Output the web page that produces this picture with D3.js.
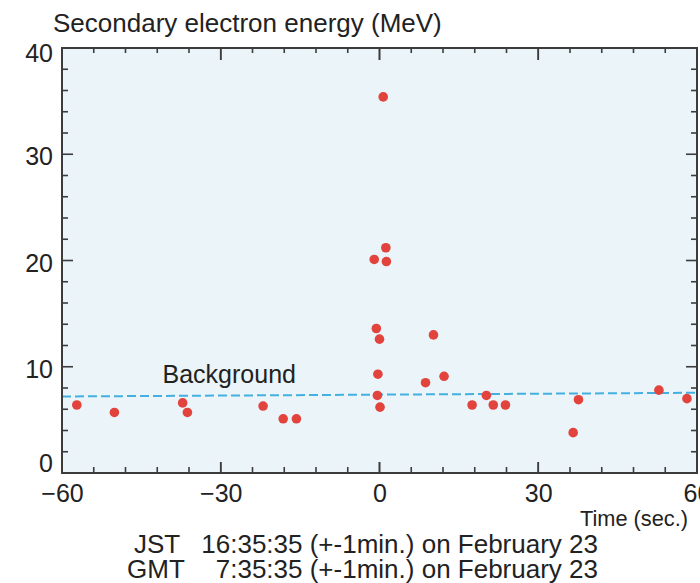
<!DOCTYPE html>
<html>
<head>
<meta charset="utf-8">
<script src="https://cdn.jsdelivr.net/npm/d3@7"></script>
<style>
  body { margin: 0; background: #ffffff; }
  svg { display: block; font-family: "Liberation Sans", Arial, sans-serif; }
</style>
</head>
<body>
<div id="chart"></div>
<script>
// Event times (sec) and secondary electron energies (MeV)
var times    = [-57.2, -50.1, -37.2, -36.3, -22.0, -18.2, -15.7,
                -1.0, -0.6, -0.4, -0.3, 0.0, 0.1, 0.7, 1.2, 1.3,
                8.7, 10.2, 12.2, 17.5, 20.2, 21.5, 23.8, 36.6, 37.6, 52.8, 58.1];
var energies = [6.4, 5.7, 6.6, 5.7, 6.3, 5.1, 5.1,
                20.1, 13.6, 7.3, 9.3, 12.6, 6.2, 35.4, 21.2, 19.9,
                8.5, 13.0, 9.1, 6.4, 7.3, 6.4, 6.4, 3.8, 6.9, 7.8, 7.0];

// Background level (dashed line) at the two ends of the time range
var bgTimes = [-60, 60];
var bgLevels = [7.2, 7.55];

var xMajor = [-60, -30, 0, 30, 60];
var xMinor = d3.range(-54, 60, 6);
var yMajor = [0, 10, 20, 30, 40];
var yMinor = d3.range(2, 40, 2);

var width = 700, height = 583;
var plotLeft = 62, plotRight = 697, plotTop = 48, plotBottom = 473;
var axisColor = '#3c3c3c';

var svg = d3.select('#chart').append('svg')
    .attr('width', width).attr('height', height);

var x = d3.scaleLinear().domain([-60, 60]).range([plotLeft, plotRight]);
var y = d3.scaleLinear().domain([0, 40]).range([plotBottom, plotTop]);

// Plot background
svg.append('rect')
    .attr('x', plotLeft).attr('y', plotTop)
    .attr('width', plotRight - plotLeft).attr('height', plotBottom - plotTop)
    .attr('fill', '#eaf4f9');

// Background level
svg.append('line')
    .attr('x1', x(bgTimes[0])).attr('y1', y(bgLevels[0]))
    .attr('x2', x(bgTimes[1])).attr('y2', y(bgLevels[1]))
    .attr('stroke', '#45b0e0').attr('stroke-width', 2)
    .attr('stroke-dasharray', '9,4');

svg.append('text')
    .attr('x', x(-41)).attr('y', y(8.47))
    .attr('font-size', 25).attr('fill', '#222')
    .text('Background');

// Events
svg.append('g').selectAll('circle')
    .data(times)
    .enter().append('circle')
    .attr('cx', function(d) { return x(d); })
    .attr('cy', function(d, i) { return y(energies[i]); })
    .attr('r', 4.8)
    .attr('fill', '#e2433d');

// Frame
svg.append('rect')
    .attr('x', plotLeft).attr('y', plotTop)
    .attr('width', plotRight - plotLeft).attr('height', plotBottom - plotTop)
    .attr('fill', 'none').attr('stroke', axisColor).attr('stroke-width', 2);

// Inward ticks on all four sides
var ticks = svg.append('g').attr('stroke', axisColor).attr('stroke-width', 1.6);
function tickLen(d, majors) { return majors.indexOf(d) >= 0 ? 11 : 6; }
var xAll = xMajor.slice(1, 4).concat(xMinor);
ticks.selectAll('.xb').data(xAll).enter().append('line')
    .attr('x1', function(d) { return x(d); }).attr('x2', function(d) { return x(d); })
    .attr('y1', plotBottom).attr('y2', function(d) { return plotBottom - tickLen(d, xMajor); });
ticks.selectAll('.xt').data(xAll).enter().append('line')
    .attr('x1', function(d) { return x(d); }).attr('x2', function(d) { return x(d); })
    .attr('y1', plotTop).attr('y2', function(d) { return plotTop + tickLen(d, xMajor) + (xMajor.indexOf(d) >= 0 ? 1 : -1); });
ticks.selectAll('.yl').data(yMinor).enter().append('line')
    .attr('y1', function(d) { return y(d); }).attr('y2', function(d) { return y(d); })
    .attr('x1', plotLeft).attr('x2', function(d) { return plotLeft + tickLen(d, yMajor); });
ticks.selectAll('.yr').data(yMinor).enter().append('line')
    .attr('y1', function(d) { return y(d); }).attr('y2', function(d) { return y(d); })
    .attr('x1', plotRight).attr('x2', function(d) { return plotRight - tickLen(d, yMajor); });

// Tick labels through the axes
var xb = svg.append('g').attr('transform', 'translate(0,' + plotBottom + ')')
    .call(d3.axisBottom(x).tickValues(xMajor).tickSize(0).tickPadding(9)
        .tickFormat(function(d) { return d < 0 ? '\u2212' + Math.abs(d) : d; }));
xb.select('.domain').remove();
xb.selectAll('text').attr('font-size', 25).attr('dy', '0.8em').attr('fill', '#222')
    .attr('font-family', '"Liberation Sans", Arial, sans-serif');

var yl = svg.append('g').attr('transform', 'translate(' + plotLeft + ',0)')
    .call(d3.axisLeft(y).tickValues(yMajor).tickSize(0).tickPadding(9));
yl.select('.domain').remove();
yl.selectAll('text').attr('font-size', 25).attr('fill', '#222')
    .attr('font-family', '"Liberation Sans", Arial, sans-serif')
    .attr('dy', function(d) { return d === 0 ? '-0.05em' : (d === 40 ? '0.55em' : '0.42em'); });

// Titles
svg.append('text')
    .attr('x', 53).attr('y', 32)
    .attr('font-size', 26).attr('fill', '#222')
    .text('Secondary electron energy (MeV)');

svg.append('text')
    .attr('x', 580).attr('y', 526)
    .attr('font-size', 22).attr('fill', '#222')
    .attr('textLength', 108).attr('lengthAdjust', 'spacingAndGlyphs')
    .text('Time (sec.)');

var notes = [['JST', '16:35:35 (+-1min.) on February 23', 134, 553],
             ['GMT', '7:35:35 (+-1min.) on February 23', 127, 578]];
notes.forEach(function(n) {
    svg.append('text').attr('x', n[2]).attr('y', n[3])
        .attr('font-size', 26).attr('fill', '#222').text(n[0]);
    svg.append('text').attr('x', 598).attr('y', n[3])
        .attr('font-size', 26).attr('fill', '#222').attr('text-anchor', 'end')
        .text(n[1]);
});
</script>
</body>
</html>
